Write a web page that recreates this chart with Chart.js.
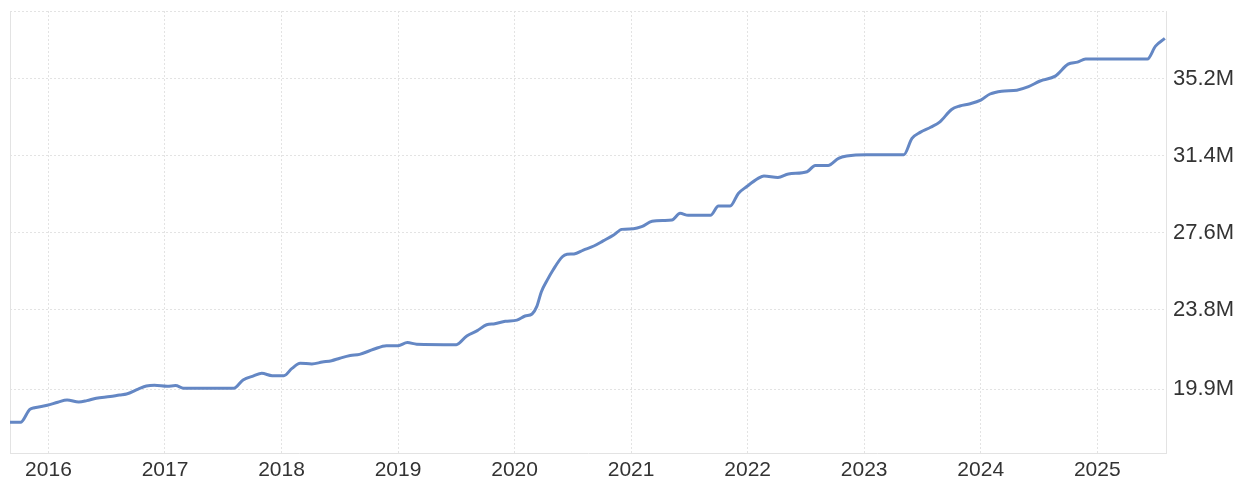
<!DOCTYPE html>
<html>
<head>
<meta charset="utf-8">
<script src="https://cdn.jsdelivr.net/npm/chart.js@4.4.1/dist/chart.umd.min.js"></script>
<style>
  html, body { margin: 0; padding: 0; background: #fff; }
  #wrap { width: 1245px; height: 478px; position: relative; }
</style>
</head>
<body>
<div id="wrap"><canvas id="chart"></canvas></div>
<script>
// decimal years and values in millions
const years = [
    2015.67, 2015.76, 2015.84, 2015.88, 2015.99, 2016.08, 2016.16, 2016.26, 2016.33, 2016.41,
    2016.53, 2016.61, 2016.67, 2016.77, 2016.84, 2016.91, 2017.02, 2017.09, 2017.16, 2017.59,
    2017.67, 2017.76, 2017.83, 2017.92, 2018.02, 2018.09, 2018.16, 2018.26, 2018.35, 2018.43,
    2018.50, 2018.59, 2018.67, 2018.79, 2018.90, 2019.00, 2019.08, 2019.16, 2019.50, 2019.59,
    2019.68, 2019.76, 2019.83, 2019.92, 2020.02, 2020.09, 2020.15, 2020.19, 2020.23, 2020.28,
    2020.33, 2020.41, 2020.45, 2020.51, 2020.59, 2020.68, 2020.76, 2020.85, 2020.92, 2021.02,
    2021.09, 2021.18, 2021.28, 2021.35, 2021.42, 2021.49, 2021.68, 2021.75, 2021.85, 2021.92,
    2021.99, 2022.09, 2022.14, 2022.26, 2022.35, 2022.51, 2022.58, 2022.69, 2022.78, 2022.85,
    2023.02, 2023.34, 2023.41, 2023.48, 2023.57, 2023.65, 2023.75, 2023.82, 2023.91, 2024.00,
    2024.08, 2024.18, 2024.31, 2024.41, 2024.51, 2024.64, 2024.75, 2024.83, 2024.90, 2025.43,
    2025.50, 2025.58
];
const values = [
    18.26, 18.26, 18.90, 18.98, 19.10, 19.25, 19.36, 19.26, 19.33, 19.45,
    19.53, 19.61, 19.66, 19.90, 20.05, 20.09, 20.04, 20.07, 19.94, 19.94,
    20.35, 20.55, 20.68, 20.56, 20.56, 20.92, 21.17, 21.14, 21.23, 21.30,
    21.42, 21.55, 21.61, 21.86, 22.04, 22.04, 22.19, 22.11, 22.09, 22.52,
    22.78, 23.07, 23.12, 23.24, 23.30, 23.50, 23.60, 23.96, 24.70, 25.27,
    25.77, 26.42, 26.54, 26.56, 26.75, 26.95, 27.20, 27.49, 27.77, 27.80,
    27.90, 28.17, 28.21, 28.23, 28.56, 28.46, 28.46, 28.92, 28.92, 29.54,
    29.87, 30.28, 30.40, 30.33, 30.50, 30.61, 30.92, 30.92, 31.27, 31.38,
    31.45, 31.45, 32.25, 32.55, 32.80, 33.07, 33.68, 33.85, 33.96, 34.14,
    34.44, 34.58, 34.63, 34.80, 35.08, 35.32, 35.91, 36.01, 36.16, 36.16,
    36.80, 37.18
];
const xTicks = [2016, 2017, 2018, 2019, 2020, 2021, 2022, 2023, 2024, 2025];
const yTicks = [19.9, 23.8, 27.6, 31.4, 35.2];

const gridColor = '#e3e3e3';
const textColor = '#333333';

// top and left edges of the plot box
const frame = {
    id: 'frame',
    beforeDatasetsDraw(chart) {
        const { ctx, chartArea: a } = chart;
        ctx.save();
        ctx.strokeStyle = gridColor;
        ctx.lineWidth = 1;
        ctx.setLineDash([2, 2]);
        ctx.beginPath();
        ctx.moveTo(a.left, a.top + 0.5);
        ctx.lineTo(a.right, a.top + 0.5);
        ctx.stroke();
        ctx.setLineDash([]);
        ctx.beginPath();
        ctx.moveTo(a.left + 0.5, a.top);
        ctx.lineTo(a.left + 0.5, a.bottom);
        ctx.stroke();
        ctx.restore();
    }
};

const ctx = document.getElementById('chart').getContext('2d');
const chart = new Chart(ctx, {
    type: 'line',
    data: {
        datasets: [{
            data: years.map((y, i) => ({ x: y, y: values[i] })),
            borderColor: '#6487c4',
            borderWidth: 3,
            pointRadius: 0,
            cubicInterpolationMode: 'monotone',
            fill: false
        }]
    },
    options: {
        responsive: true,
        maintainAspectRatio: false,
        animation: false,
        layout: { padding: { left: 10, top: 11, right: 0, bottom: 0 } },
        plugins: {
            legend: { display: false },
            tooltip: { enabled: false }
        },
        scales: {
            x: {
                type: 'linear',
                min: 2015.67,
                max: 2025.59,
                afterBuildTicks: scale => { scale.ticks = xTicks.map(v => ({ value: v })); },
                afterFit: scale => {
                    scale.height = 25;
                    scale.paddingLeft = 0;
                    scale.paddingRight = 0;
                },
                grid: { color: gridColor, tickLength: 0, drawTicks: false },
                border: { color: gridColor, dash: [2, 2] },
                ticks: {
                    color: textColor,
                    font: { family: 'Liberation Sans', size: 21 },
                    padding: 5,
                    maxRotation: 0,
                    autoSkip: false,
                    callback: v => String(v)
                }
            },
            y: {
                position: 'right',
                min: 16.75,
                max: 38.53,
                afterBuildTicks: scale => { scale.ticks = yTicks.map(v => ({ value: v })); },
                afterFit: scale => {
                    scale.width = 79;
                    scale.paddingTop = 0;
                    scale.paddingBottom = 0;
                },
                grid: { color: gridColor, drawTicks: false },
                border: { color: gridColor, dash: [2, 2] },
                ticks: {
                    color: textColor,
                    font: { family: 'Liberation Sans', size: 22 },
                    padding: 7,
                    crossAlign: 'near',
                    callback: v => v.toFixed(1) + 'M'
                }
            }
        }
    },
    plugins: [frame]
});
</script>
</body>
</html>
